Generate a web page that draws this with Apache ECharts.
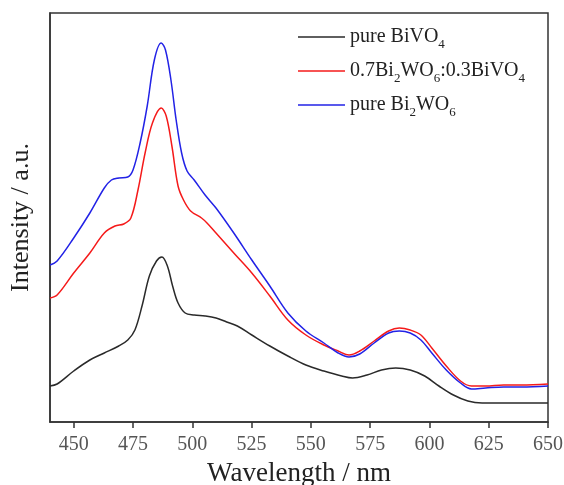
<!DOCTYPE html>
<html>
<head>
<meta charset="utf-8">
<script src="https://cdn.jsdelivr.net/npm/echarts@6/dist/echarts.min.js"></script>
<style>
  html, body { margin: 0; padding: 0; background: #fff; }
  #chart { width: 564px; height: 485px; }
</style>
</head>
<body>
<div id="chart"></div>
<script>
// 波长 / 强度 (a.u.)
var wlBlue = [440, 443, 450, 456.8, 462.9, 465.9, 469, 472.8, 475, 478, 481, 484, 486.9, 488.7, 491, 493.2, 495.5, 497.8, 500.8, 505.4, 510, 517.5, 525.1, 532.7, 540.3, 547.9, 555.5, 561.5, 566.1, 570.6, 576.7, 582.8, 587.3, 591.9, 596.4, 601, 607.1, 613.1, 617.7, 623.7, 631.3, 638.9, 650];
var blueVals = [157, 161, 184, 209, 234, 242, 244, 245, 252, 279, 316, 362, 379, 372, 342, 302, 269, 251, 242, 227, 214, 189, 162, 136, 109, 91, 79, 69, 65, 68, 79, 89, 91, 89, 82, 69, 52, 39, 33, 34, 35, 35, 36];

var wlRed = [440, 443, 450, 456.8, 462.9, 467.4, 471.1, 474.1, 477.1, 480.1, 483.2, 486.9, 489, 491.4, 494, 496.3, 499.3, 503.9, 506.2, 510, 517.5, 525.1, 532.7, 540.3, 547.9, 555.5, 561.5, 566.1, 570.6, 576.7, 582.8, 587.3, 591.9, 596.4, 601, 607.1, 613.1, 617.7, 623.7, 631.3, 638.9, 650];
var redVals = [124, 127, 149, 169, 189, 196, 198, 204, 232, 269, 299, 314, 306, 276, 236, 222, 211, 204, 199, 189, 169, 149, 126, 102, 87, 77, 71, 67, 71, 81, 91, 94, 92, 87, 74, 56, 41, 36, 36, 37, 37, 38];

var wlBlack = [440, 443, 450, 456.8, 462.9, 469, 472.8, 475.8, 478.8, 481.9, 484.9, 487.2, 489.5, 491.7, 494, 497, 500.8, 505.4, 510, 514.5, 519, 525.1, 532.7, 540.3, 547.9, 555.5, 563, 567.6, 573.7, 579.8, 585.8, 591.9, 598, 604, 610.1, 616.2, 622.2, 631.3, 650];
var blackVals = [36, 38, 51, 62, 69, 76, 82, 92, 116, 146, 161, 165, 156, 136, 119, 109, 107, 106, 104, 100, 96, 87, 76, 66, 57, 51, 46, 44, 47, 52, 54, 52, 46, 36, 27, 21, 19, 19, 19];

var xTicks = [450, 475, 500, 525, 550, 575, 600, 625, 650];

function pairs(xs, ys) {
  return xs.map(function (x, i) { return [x, ys[i]]; });
}

var chart = echarts.init(document.getElementById('chart'));
var serif = 'Liberation Serif, Times New Roman, serif';

var option = {
  backgroundColor: '#fff',
  animation: false,
  grid: {
    left: 50, right: 16, top: 13, bottom: 63,
    show: true, borderColor: '#333', borderWidth: 1.5,
    containLabel: false,
    outerBoundsMode: 'none'
  },
  // 图例
  legend: {
    orient: 'vertical',
    left: 293,
    top: 22,
    icon: 'rect',
    itemWidth: 47,
    itemHeight: 1.5,
    itemGap: 10,
    textStyle: {
      fontFamily: serif, fontSize: 20, color: '#222',
      rich: {
        m: { fontFamily: serif, fontSize: 20, color: '#222' },
        s: { fontFamily: serif, fontSize: 13, color: '#222', padding: [15, 0, 0, 0] }
      }
    },
    formatter: function (name) {
      if (name === 'a') return '{m|pure BiVO}{s|4}';
      if (name === 'b') return '{m|0.7Bi}{s|2}{m|WO}{s|6}{m|:0.3BiVO}{s|4}';
      return '{m|pure Bi}{s|2}{m|WO}{s|6}';
    },
    data: ['a', 'b', 'c']
  },
  xAxis: {
    type: 'value',
    min: 440,
    max: 650,
    name: 'Wavelength / nm',
    nameLocation: 'middle',
    nameGap: 38,
    nameTextStyle: { fontFamily: serif, fontSize: 27, color: '#222' },
    axisLine: { lineStyle: { color: '#333', width: 1.5 } },
    axisTick: { show: true, inside: false, length: 6, customValues: xTicks, lineStyle: { color: '#333', width: 1.5 } },
    axisLabel: { customValues: xTicks, fontFamily: serif, fontSize: 20, color: '#555', margin: 13 },
    splitLine: { show: false }
  },
  yAxis: {
    type: 'value',
    min: 0,
    max: 409,
    name: 'Intensity / a.u.',
    nameLocation: 'middle',
    nameGap: 16,
    nameTextStyle: { fontFamily: serif, fontSize: 26, color: '#222' },
    axisLine: { show: true, lineStyle: { color: '#333', width: 1.5 } },
    axisTick: { show: false },
    axisLabel: { show: false },
    splitLine: { show: false }
  },
  series: [
    { name: 'a', type: 'line', data: pairs(wlBlack, blackVals), showSymbol: false, symbol: 'none', smooth: 0.35,
      lineStyle: { color: '#2a2a2a', width: 1.5 }, itemStyle: { color: '#2a2a2a' } },
    { name: 'b', type: 'line', data: pairs(wlRed, redVals), showSymbol: false, symbol: 'none', smooth: 0.35,
      lineStyle: { color: '#f51a1a', width: 1.5 }, itemStyle: { color: '#f51a1a' } },
    { name: 'c', type: 'line', data: pairs(wlBlue, blueVals), showSymbol: false, symbol: 'none', smooth: 0.35,
      lineStyle: { color: '#2222e6', width: 1.5 }, itemStyle: { color: '#2222e6' } }
  ]
};

chart.setOption(option);
</script>
</body>
</html>
